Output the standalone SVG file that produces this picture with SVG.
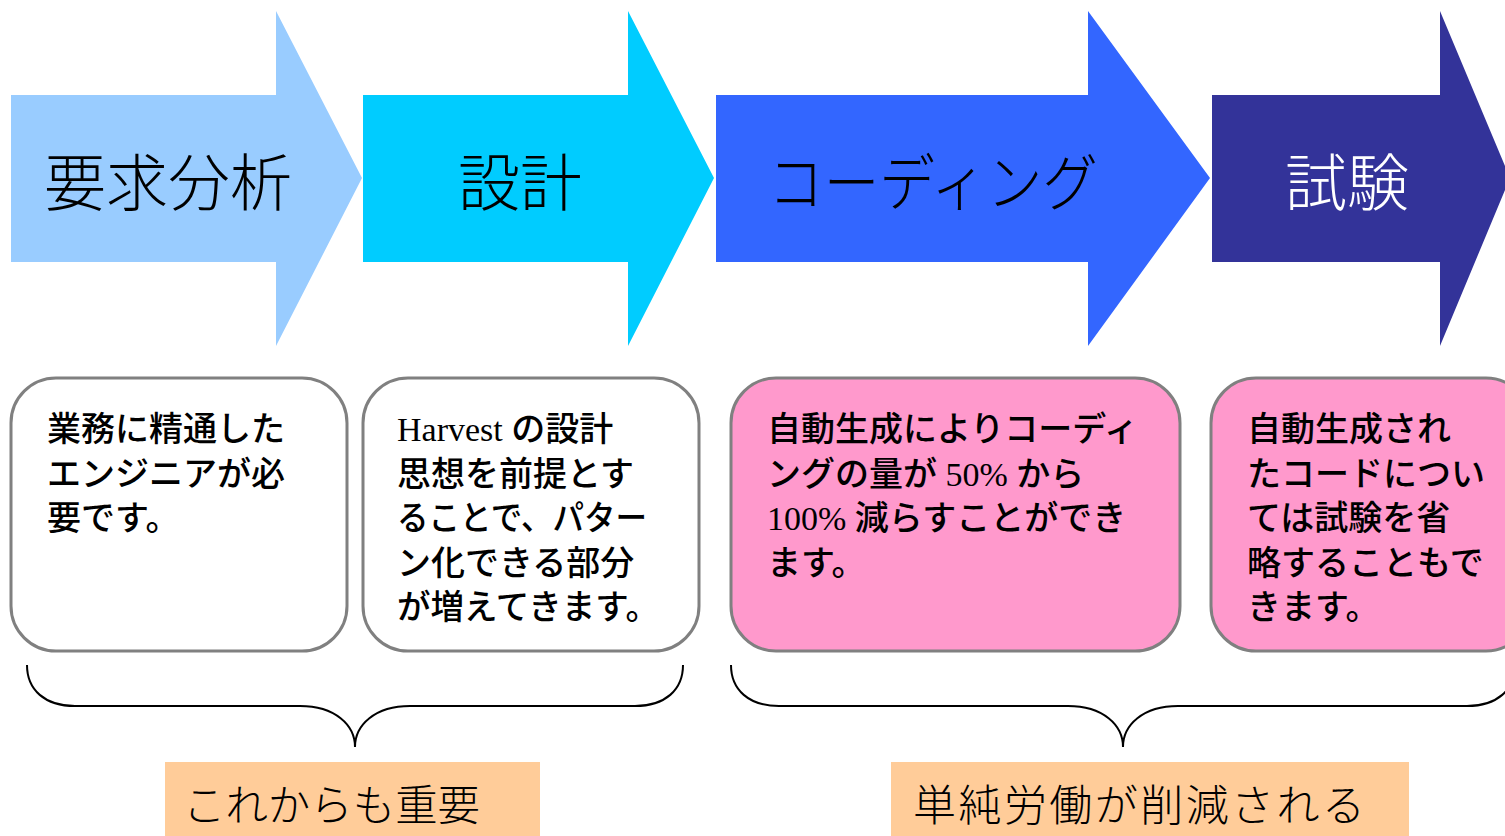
<svg xmlns="http://www.w3.org/2000/svg" width="1505" height="836" viewBox="0 0 1505 836">
<style>
.arr{font-family:"Noto Sans CJK JP","Liberation Serif",serif;font-size:62px;text-anchor:middle;font-weight:300}
.box{stroke:#808080;stroke-width:3}
.bt{font-family:"Noto Sans CJK JP","Liberation Sans",sans-serif;font-size:34px;fill:#000;font-weight:500}
.lat{font-family:"Liberation Serif","Noto Sans CJK JP",serif;font-weight:normal}
.brace{fill:none;stroke:#000;stroke-width:2}
.lab{font-family:"Noto Sans CJK JP","Liberation Serif",serif;font-size:43px;font-weight:300;fill:#000}
</style>
<rect width="1505" height="836" fill="#fff"/>
<g id="arrow-requirements">
<polygon points="11,95 276,95 276,11 362,178 276,346 276,262 11,262" fill="#99CCFF"/>
<text class="arr" x="168" y="206">要求分析</text>
</g>
<g id="arrow-design">
<polygon points="363,95 628,95 628,11 714,178 628,346 628,262 363,262" fill="#00CCFF"/>
<text class="arr" x="520" y="206">設計</text>
</g>
<g id="arrow-coding">
<polygon points="716,95 1088,95 1088,11 1210,178 1088,346 1088,262 716,262" fill="#3366FF"/>
<text class="arr" x="933" y="206" textLength="330" lengthAdjust="spacingAndGlyphs">コーディング</text>
</g>
<g id="arrow-test">
<polygon points="1212,95 1440,95 1440,11 1510,178 1440,346 1440,262 1212,262" fill="#333399"/>
<text class="arr" x="1347" y="206" fill="#fff">試験</text>
</g>
<g id="box-requirements">
<rect class="box" x="11" y="378" width="336" height="273" rx="45" fill="#fff"/>
<text class="bt" x="47" y="441">業務に精通した</text>
<text class="bt" x="47" y="486">エンジニアが必</text>
<text class="bt" x="47" y="530">要です。</text>
</g>
<g id="box-design">
<rect class="box" x="363" y="378" width="336" height="273" rx="45" fill="#fff"/>
<text class="bt" x="397" y="441"><tspan class="lat">Harvest </tspan>の設計</text>
<text class="bt" x="397" y="486">思想を前提とす</text>
<text class="bt" x="397" y="530" textLength="250" lengthAdjust="spacingAndGlyphs">ることで、パター</text>
<text class="bt" x="397" y="575">ン化できる部分</text>
<text class="bt" x="397" y="619" textLength="262" lengthAdjust="spacingAndGlyphs">が増えてきます。</text>
</g>
<g id="box-coding">
<rect class="box" x="731" y="378" width="449" height="273" rx="45" fill="#FF99CC"/>
<text class="bt" x="767" y="441">自動生成によりコーディ</text>
<text class="bt" x="767" y="486">ングの量が<tspan class="lat"> 50% </tspan>から</text>
<text class="bt" x="767" y="530"><tspan class="lat">100% </tspan>減らすことができ</text>
<text class="bt" x="767" y="575">ます。</text>
</g>
<g id="box-test">
<rect class="box" x="1211" y="378" width="320" height="273" rx="45" fill="#FF99CC"/>
<text class="bt" x="1247" y="441">自動生成され</text>
<text class="bt" x="1247" y="486">たコードについ</text>
<text class="bt" x="1247" y="530">ては試験を省</text>
<text class="bt" x="1247" y="575">略することもで</text>
<text class="bt" x="1247" y="619">きます。</text>
</g>
<g id="connectors">
<path class="brace" d="M27,665 C27,690 45,706 75,706 L300,706 C335,706 355,725 355,747 C355,725 375,706 410,706 L635,706 C665,706 683,690 683,665"/>
<path class="brace" d="M731,665 C731,690 749,706 779,706 L1068,706 C1103,706 1123,725 1123,747 C1123,725 1143,706 1178,706 L1467,706 C1497,706 1515,690 1515,665"/>
</g>
<g id="label-important">
<rect x="165" y="762" width="375" height="80" fill="#FFCC99"/>
<text class="lab" x="183" y="821" textLength="297" lengthAdjust="spacingAndGlyphs">これからも重要</text>
</g>
<g id="label-reduced">
<rect x="891" y="762" width="518" height="80" fill="#FFCC99"/>
<text class="lab" x="913" y="821" textLength="452">単純労働が削減される</text>
</g>
</svg>
